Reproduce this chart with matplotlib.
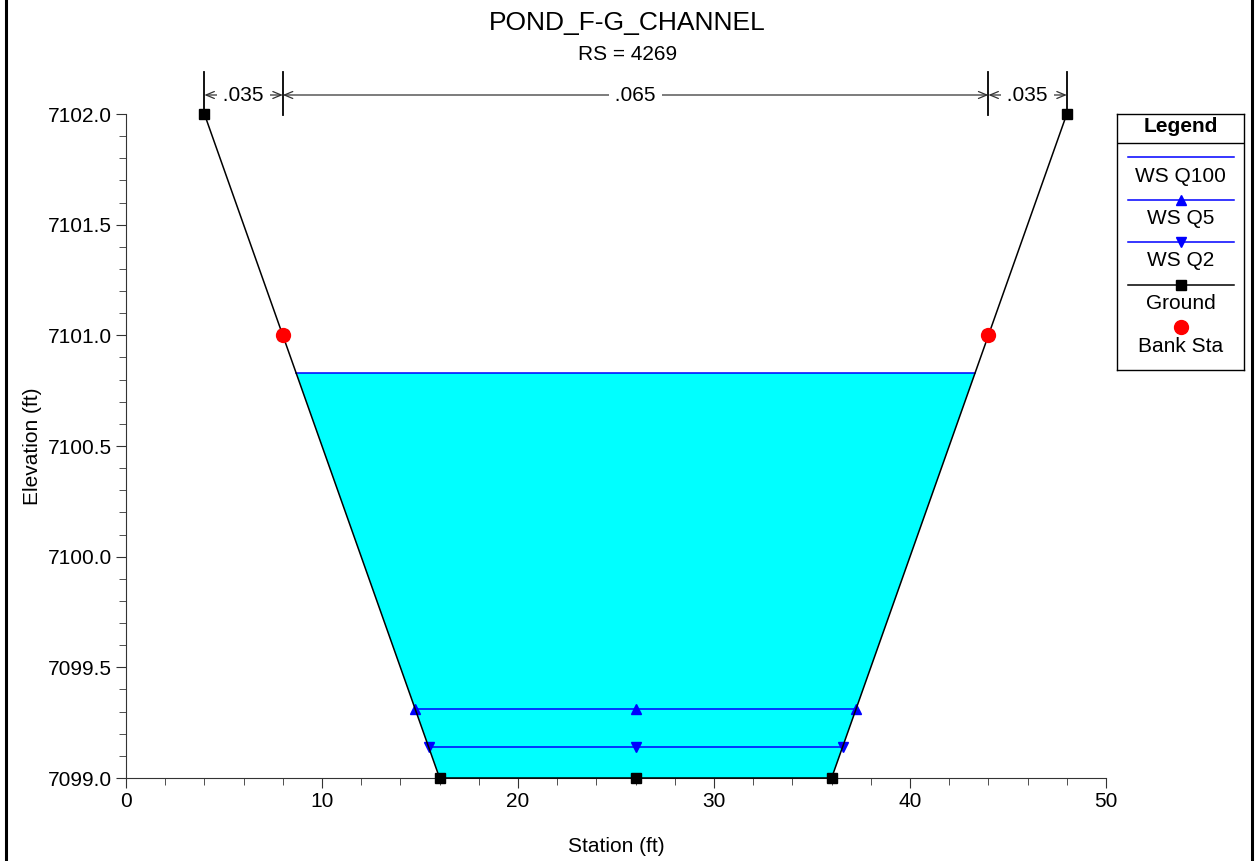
import numpy as np
import matplotlib.pyplot as plt
from matplotlib.lines import Line2D
from matplotlib.transforms import blended_transform_factory

plt.rcParams['font.family'] = ['Liberation Sans', 'DejaVu Sans']

# cross section data
station = [4, 8, 16, 26, 36, 44, 48]
elevation = [7102.0, 7101.0, 7099.0, 7099.0, 7099.0, 7101.0, 7102.0]
bank_sta = [8, 44]
bank_elev = [7101.0, 7101.0]
ws_names = ['WS Q100', 'WS Q5', 'WS Q2']
ws_elev = [7100.83, 7099.31, 7099.14]
n_breaks = [4, 8, 44, 48]
n_values = ['.035', '.065', '.035']


def ws_extent(ws):
    # where the water surface meets the ground on each side
    lo = int(np.argmin(elevation))
    left = np.interp(ws, elevation[:lo + 1][::-1], station[:lo + 1][::-1])
    hi = len(station) - 1 - int(np.argmin(elevation[::-1]))
    right = np.interp(ws, elevation[hi:], station[hi:])
    return left, right


fig = plt.figure(figsize=(12.55, 8.61), dpi=100)
ax = fig.add_axes([126/1255, 83/861, 980/1255, 664/861])

# water fill for the highest profile
l, r = ws_extent(ws_elev[0])
inner = [(s, e) for s, e in zip(station, elevation) if l < s < r]
poly_x = [l] + [p[0] for p in inner] + [r]
poly_y = [ws_elev[0]] + [p[1] for p in inner] + [ws_elev[0]]
ax.fill(poly_x, poly_y, color='#00FFFF', lw=0, zorder=1)

markers = [None, '^', 'v']
for ws, m in zip(ws_elev, markers):
    l, r = ws_extent(ws)
    ax.plot([l, r], [ws, ws], color='#0000FF', lw=1.1, zorder=3)
    if m is not None:
        ax.plot([l, (l + r) / 2, r], [ws]*3, color='#0000FF', ls='none', marker=m, ms=7, zorder=3)

ax.plot(station, elevation, color='black', lw=1.1, marker='s', ms=6.5, zorder=4, clip_on=False)
ax.plot(bank_sta, bank_elev, 'o', color='#FF0000', ms=10, zorder=5, clip_on=False)

ax.set_xlim(0, 50)
ax.set_ylim(7099.0, 7102.0)
ax.set_xticks(np.arange(0, 51, 10))
ax.set_xticks(np.arange(0, 51, 2), minor=True)
ax.set_yticks(np.arange(7099.0, 7102.01, 0.5))
ax.set_yticks(np.arange(7099.0, 7102.01, 0.1), minor=True)
ax.yaxis.set_major_formatter(plt.FormatStrFormatter('%.1f'))
ax.spines['top'].set_visible(False)
ax.spines['right'].set_visible(False)
for sp in ['left', 'bottom']:
    ax.spines[sp].set_color('#333333')
ax.tick_params(which='major', length=7, color='#333333', labelsize=15, pad=3)
ax.tick_params(which='minor', length=5, color='#333333')
ax.set_xlabel('Station (ft)', fontsize=15, labelpad=19)
ax.set_ylabel('Elevation (ft)', fontsize=15, labelpad=4)

fig.text(0.5, 1 - 23/861, 'POND_F-G_CHANNEL', ha='center', va='center', fontsize=19)
fig.text(0.5, 1 - 55/861, 'RS = 4269', ha='center', va='center', fontsize=15)

# manning's n annotations above the section
trans = blended_transform_factory(ax.transData, ax.transAxes)
y_arrow = (778 - 95) / 664
for b in n_breaks:
    ax.plot([b, b], [(778 - 115) / 664, (778 - 72) / 664], color='black', lw=1.3,
            transform=trans, clip_on=False)
for i, nv in enumerate(n_values):
    x0, x1 = n_breaks[i], n_breaks[i + 1]
    ax.annotate('', xy=(x0, y_arrow), xytext=(x1, y_arrow), xycoords=trans, textcoords=trans,
                arrowprops=dict(arrowstyle='<->,head_length=0.6,head_width=0.25', color='#333333',
                                lw=0.9, shrinkA=0, shrinkB=0), annotation_clip=False)
    ax.text((x0 + x1) / 2, y_arrow, ' ' + nv + ' ', transform=trans, ha='center', va='center',
            fontsize=15, bbox=dict(facecolor='white', edgecolor='none', pad=0.5), zorder=6)

# legend box
lg = fig.add_axes([1117/1255, (861 - 370)/861, 127/1255, 256/861])
lg.set_xlim(0, 127)
lg.set_ylim(256, 0)
lg.set_xticks([])
lg.set_yticks([])
for sp in lg.spines.values():
    sp.set_color('black')
    sp.set_linewidth(1)
lg.text(63.5, 13, 'Legend', ha='center', va='center', fontsize=15, fontweight='bold')
lg.plot([0, 127], [29, 29], color='black', lw=1)
entries = [
    ('WS Q100', '#0000FF', None, 7),
    ('WS Q5', '#0000FF', '^', 7),
    ('WS Q2', '#0000FF', 'v', 7),
    ('Ground', 'black', 's', 6.5),
]
for k, (name, c, m, size) in enumerate(entries):
    yl = 43 + 42.5 * k
    lg.plot([11, 117], [yl, yl], color=c, lw=1.1)
    if m is not None:
        lg.plot([64], [yl], color=c, marker=m, ms=size)
    lg.text(63.5, yl + 19, name, ha='center', va='center', fontsize=15)
lg.plot([64], [213], 'o', color='#FF0000', ms=10)
lg.text(63.5, 233, 'Bank Sta', ha='center', va='center', fontsize=15)

# outer frame
fig.add_artist(Line2D([6/1255, 6/1255], [0, 1], transform=fig.transFigure, color='black', lw=2.2))
fig.add_artist(Line2D([1252/1255, 1252/1255], [0, 1], transform=fig.transFigure, color='black', lw=2.2))

fig.savefig('out.png', dpi=100)
